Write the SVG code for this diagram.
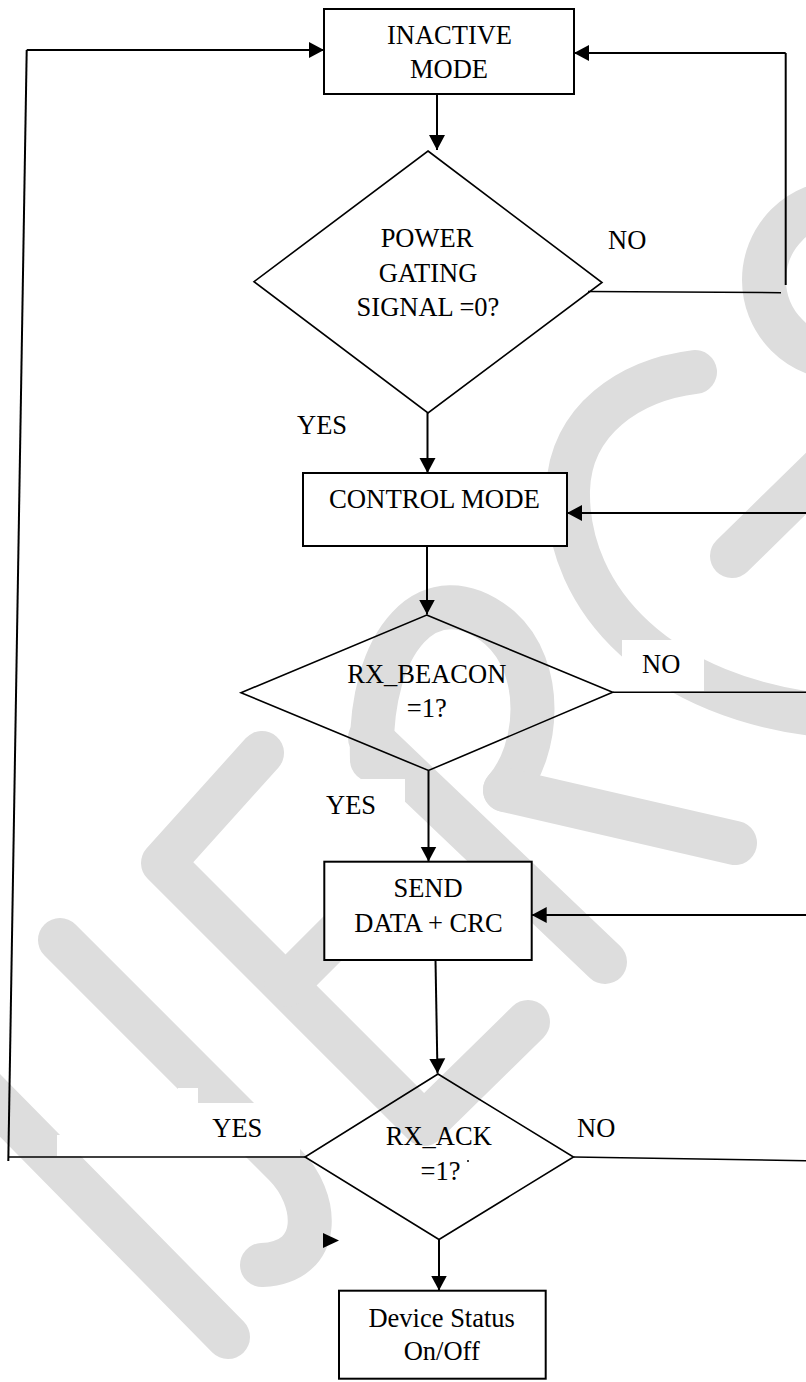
<svg xmlns="http://www.w3.org/2000/svg" width="806" height="1382" viewBox="0 0 806 1382">
<style>
.wm{fill:none;stroke:#dddddd;stroke-width:44;stroke-linecap:round;stroke-linejoin:round}
.patch{fill:#fff;stroke:none}
.box{fill:#fff;stroke:#000;stroke-width:2}
.dia{fill:none;stroke:#000;stroke-width:1.6}
.ln{fill:none;stroke:#000;stroke-width:2}
.thin{fill:none;stroke:#000;stroke-width:1.5}
text{font-family:"Liberation Serif","Times New Roman",serif;font-size:26.5px;fill:#000}
.c{text-anchor:middle}
</style>
<defs>
<marker id="ah" markerUnits="userSpaceOnUse" markerWidth="16" markerHeight="17" refX="15" refY="8.5" orient="auto">
<path d="M0,0.5 L15,8.5 L0,16.5 z" fill="#000"/>
</marker>
</defs>
<rect x="0" y="0" width="806" height="1382" fill="#fff"/>
<g id="watermark">
<circle class="wm" cx="842" cy="280" r="78"/>
<path class="wm" d="M695 372 C630 380 570 420 568 490 C566 600 660 700 830 716"/>
<path class="wm" d="M830 460 L732 556"/>
<path class="wm" d="M370 738 L605 962"/>
<path class="wm" d="M372 760 C368 640 430 570 500 628 C545 668 540 750 505 790"/>
<path class="wm" d="M505 790 L735 843"/>
<path class="wm" d="M262 753 L163 863 L424 1124 L528 1022"/>
<path class="wm" d="M286 985 L360 911"/>
<path class="wm" d="M60 940 L285 1165 C318 1198 325 1262 262 1265"/>
<path class="wm" d="M-20 1085 L228 1337"/>
<rect class="patch" x="622" y="640" width="82" height="51"/>
<rect class="patch" x="318" y="779" width="87" height="45"/>
<polygon class="patch" points="178,1088 198,1088 198,1103 300,1103 300,1156 57,1156 57,1135 178,1135"/>
</g>
<g id="connectors">
<line class="ln" x1="437" y1="94" x2="437" y2="150" marker-end="url(#ah)"/>
<line class="ln" x1="427.5" y1="413" x2="427.5" y2="473" marker-end="url(#ah)"/>
<line class="thin" x1="588" y1="291.5" x2="781" y2="292.7"/>
<line class="ln" x1="785.7" y1="53" x2="785.7" y2="285"/>
<line class="ln" x1="785.7" y1="53" x2="574" y2="53" marker-end="url(#ah)"/>
<line class="ln" x1="427" y1="546" x2="427" y2="614.5" marker-end="url(#ah)"/>
<line class="thin" x1="612.7" y1="692.3" x2="806" y2="692.3"/>
<line class="ln" x1="806" y1="513" x2="567" y2="513" marker-end="url(#ah)"/>
<line class="ln" x1="428.5" y1="770.5" x2="428.5" y2="861.5" marker-end="url(#ah)"/>
<line class="ln" x1="806" y1="915" x2="531.7" y2="915" marker-end="url(#ah)"/>
<line class="ln" x1="435.5" y1="960" x2="437.5" y2="1073.5" marker-end="url(#ah)"/>
<line class="thin" x1="305" y1="1157" x2="8.3" y2="1157"/>
<line class="ln" x1="8.3" y1="1161" x2="26.7" y2="50"/>
<line class="ln" x1="26.7" y1="50" x2="324" y2="50" marker-end="url(#ah)"/>
<line class="thin" x1="573.5" y1="1157" x2="806" y2="1160.7"/>
<line class="ln" x1="439" y1="1240" x2="439" y2="1290.5" marker-end="url(#ah)"/>
<polygon points="323,1233 339,1240.5 323,1248" fill="#000"/>
</g>
<g id="n_inactive">
<rect class="box" x="324" y="9" width="250" height="85"/>
<text class="c" x="449.5" y="44.3">INACTIVE</text>
<text class="c" x="449" y="77.7">MODE</text>
</g>
<g id="n_power">
<polygon class="dia" points="428,151 602,282.5 428,413 254,281.7"/>
<text class="c" x="427" y="247">POWER</text>
<text class="c" x="428" y="281.7">GATING</text>
<text class="c" x="428" y="316">SIGNAL =0?</text>
</g>
<g id="n_control">
<rect class="box" x="303" y="473" width="264" height="73"/>
<text class="c" x="434.4" y="508.3" textLength="211" lengthAdjust="spacingAndGlyphs">CONTROL MODE</text>
</g>
<g id="n_beacon">
<polygon class="dia" points="426.7,615 612.7,692.3 428.5,770.5 241,692.7"/>
<text class="c" x="426.8" y="683.3">RX_BEACON</text>
<text class="c" x="426.7" y="717.3">=1?</text>
</g>
<g id="n_send">
<rect class="box" x="324.3" y="861.7" width="207.4" height="98.3"/>
<text class="c" x="428" y="897.3">SEND</text>
<text class="c" x="428.5" y="931.7">DATA + CRC</text>
</g>
<g id="n_ack">
<polygon class="dia" points="438,1074 573.5,1157 439,1239.5 305,1157"/>
<text class="c" x="438.8" y="1145">RX_ACK</text>
<text class="c" x="440.5" y="1180">=1?</text>
<circle cx="468" cy="1161" r="1" fill="#000"/>
</g>
<g id="n_device">
<rect class="box" x="339" y="1290.7" width="206.7" height="88"/>
<text class="c" x="441.7" y="1326.7">Device Status</text>
<text class="c" x="441.7" y="1360">On/Off</text>
</g>
<g id="labels">
<text x="608" y="249">NO</text>
<text x="297" y="434.3">YES</text>
<text x="642" y="673.3">NO</text>
<text x="326" y="814.3">YES</text>
<text x="212.3" y="1136.7">YES</text>
<text x="577" y="1136.7">NO</text>
</g>
</svg>
